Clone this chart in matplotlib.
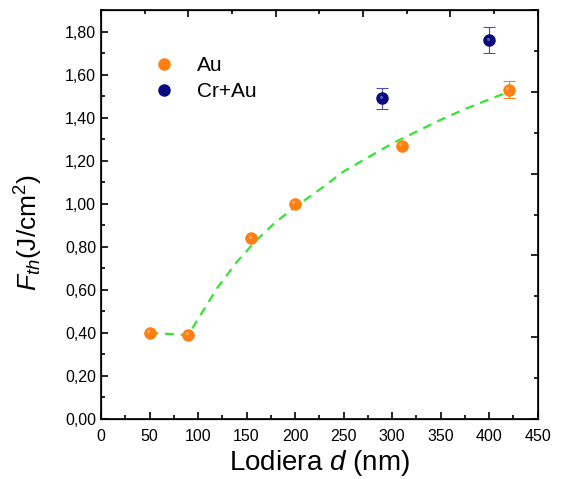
import matplotlib
matplotlib.use("Agg")
import matplotlib.pyplot as plt
from matplotlib.ticker import MultipleLocator, FuncFormatter, NullFormatter
from matplotlib.lines import Line2D
import matplotlib.transforms as mtransforms

plt.rcParams['font.family'] = ['Liberation Sans', 'DejaVu Sans']
plt.rcParams['mathtext.fontset'] = 'custom'
plt.rcParams['mathtext.rm'] = 'Liberation Sans'
plt.rcParams['mathtext.it'] = 'Liberation Sans:italic'

# Data
au_x = [50, 90, 155, 200, 310, 420]
au_y = [0.40, 0.39, 0.84, 1.00, 1.27, 1.53]
au_err = [0, 0, 0, 0, 0, 0.04]
crau_x = [290, 400]
crau_y = [1.49, 1.76]
crau_err = [0.05, 0.06]
fit_x = [50, 90, 100, 120, 140, 160, 180, 200, 225, 250, 275, 300, 325, 350, 375, 400, 420]
fit_y = [0.40, 0.39, 0.465, 0.61, 0.73, 0.83, 0.915, 0.985, 1.065, 1.15, 1.215, 1.28, 1.335, 1.39, 1.44, 1.485, 1.52]

orange = '#FF8010'
navy = '#0A0A80'
green = '#33E633'

fig = plt.figure(figsize=(5.61, 4.79), dpi=100)
ax = fig.add_axes([0.180, 0.1253, 0.7785, 0.8537])

ax.plot(fit_x, fit_y, linestyle=(0, (4, 3)), color=green, linewidth=1.6, zorder=2)
ax.errorbar(au_x, au_y, yerr=au_err, fmt='o', color=orange, ecolor=orange,
            markersize=8, capsize=4, elinewidth=0.8, capthick=0.8, zorder=3)
ax.errorbar(crau_x, crau_y, yerr=crau_err, fmt='o', color=navy, ecolor='#5050A0',
            markersize=8, capsize=4, elinewidth=0.8, capthick=0.8, zorder=3)
# subtle sphere highlights
off = mtransforms.offset_copy(ax.transData, fig=fig, x=-1.2, y=1.2, units='points')
ax.plot(au_x, au_y, 'o', color='white', alpha=0.35, markersize=2.2, mew=0, transform=off, zorder=4)
ax.plot(crau_x, crau_y, 'o', color='white', alpha=0.35, markersize=2.2, mew=0, transform=off, zorder=4)

ax.set_xlim(0, 450)
ax.set_ylim(0, 1.9)
ax.xaxis.set_major_locator(MultipleLocator(50))
ax.xaxis.set_minor_locator(MultipleLocator(25))
ax.yaxis.set_major_locator(MultipleLocator(0.2))
ax.yaxis.set_minor_locator(MultipleLocator(0.1))
ax.yaxis.set_major_formatter(FuncFormatter(lambda v, p: f"{v:.2f}".replace('.', ',')))
ax.tick_params(which='both', direction='in', labelsize=11.5, width=1.2)
ax.tick_params(axis='x', which='major', pad=7)
ax.tick_params(which='major', length=5)
ax.tick_params(which='minor', length=3)
for s in ax.spines.values():
    s.set_linewidth(1.2)

# mirrored frame ticks (top/right)
axt = ax.twiny()
axt.set_xlim(0, 1)
axt.xaxis.set_major_locator(MultipleLocator(0.2))
axt.xaxis.set_minor_locator(MultipleLocator(0.1))
axt.xaxis.set_major_formatter(NullFormatter())
axt.tick_params(which='both', direction='in', width=1.2)
axt.tick_params(which='major', length=5)
axt.tick_params(which='minor', length=3)
axr = ax.twinx()
axr.set_ylim(0, 1)
axr.yaxis.set_major_locator(MultipleLocator(0.2))
axr.yaxis.set_minor_locator(MultipleLocator(0.1))
axr.yaxis.set_major_formatter(NullFormatter())
axr.tick_params(which='both', direction='in', width=1.2)
axr.tick_params(which='major', length=5)
axr.tick_params(which='minor', length=3)

ax.set_xlabel(r'Lodiera $d$ (nm)', fontsize=20, labelpad=3)
ax.set_ylabel(r'$F_{th}$(J/cm$^2$)', fontsize=19)
ax.yaxis.set_label_coords(-0.128, 0.455)

handles = [Line2D([], [], marker='o', linestyle='none', color=orange, markersize=8),
           Line2D([], [], marker='o', linestyle='none', color=navy, markersize=8)]
labels = ['Au', 'Cr+Au']
ax.legend(handles, labels, loc='upper left', bbox_to_anchor=(0.121, 0.888), frameon=False,
          fontsize=15, handletextpad=1.05, labelspacing=0.35, handlelength=1.0,
          borderaxespad=0, borderpad=0)

fig.savefig('out.png', dpi=100)
